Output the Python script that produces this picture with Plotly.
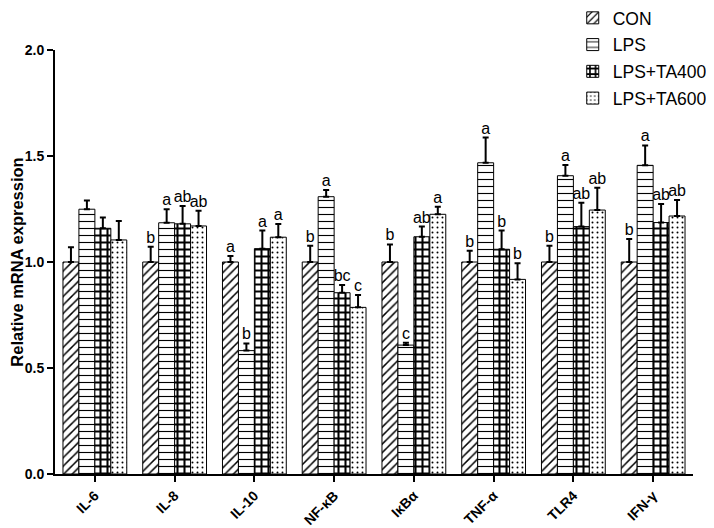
import plotly.graph_objects as go

categories = ["IL-6", "IL-8", "IL-10", "NF-κB", "IκBα", "TNF-α", "TLR4", "IFN-γ"]
groups = ["CON", "LPS", "LPS+TA400", "LPS+TA600"]

con_mean = [1.00, 1.00, 1.00, 1.00, 1.00, 1.00, 1.00, 1.00]
con_err = [0.07, 0.072, 0.028, 0.077, 0.083, 0.053, 0.077, 0.108]
lps_mean = [1.249, 1.185, 0.582, 1.308, 0.608, 1.468, 1.407, 1.456]
lps_err = [0.041, 0.064, 0.034, 0.032, 0.011, 0.119, 0.051, 0.094]
ta400_mean = [1.159, 1.180, 1.063, 0.855, 1.119, 1.060, 1.167, 1.186]
ta400_err = [0.051, 0.084, 0.085, 0.037, 0.048, 0.088, 0.113, 0.088]
ta600_mean = [1.104, 1.170, 1.117, 0.786, 1.225, 0.918, 1.245, 1.217]
ta600_err = [0.089, 0.072, 0.062, 0.058, 0.036, 0.076, 0.105, 0.075]

con_letters = ["", "b", "a", "b", "b", "b", "b", "b"]
lps_letters = ["", "a", "b", "a", "c", "a", "a", "a"]
ta400_letters = ["", "ab", "a", "bc", "ab", "b", "ab", "ab"]
ta600_letters = ["", "ab", "a", "c", "a", "b", "ab", "ab"]

y_ticks = [0.0, 0.5, 1.0, 1.5, 2.0]

means = [con_mean, lps_mean, ta400_mean, ta600_mean]
errs = [con_err, lps_err, ta400_err, ta600_err]
letters = [con_letters, lps_letters, ta400_letters, ta600_letters]
patterns = [
    dict(shape="/", size=6, solidity=0.25),
    dict(shape="-", size=7, solidity=0.16),
    dict(shape="+", size=7, solidity=0.5),
    dict(shape=".", size=5, solidity=0.12),
]

FONT = "Liberation Sans, Arial, sans-serif"
xs = list(range(len(categories)))
bar_w = 0.2

fig = go.Figure()
for j, g in enumerate(groups):
    fig.add_trace(go.Bar(
        x=xs, y=means[j], name=g, width=bar_w, offset=(j - 2) * bar_w,
        legendgroup=g,
        marker=dict(color="white",
                    line=dict(color="black", width=1),
                    pattern=dict(fgcolor="black", bgcolor="white", fillmode="replace", **patterns[j])),
        error_y=dict(type="data", symmetric=False, array=errs[j],
                     arrayminus=[0] * len(errs[j]), color="black", thickness=2, width=3),
    ))

for j, g in enumerate(groups):
    fig.add_trace(go.Scatter(
        x=[i + (j - 1.5) * bar_w for i in xs],
        y=[m + e for m, e in zip(means[j], errs[j])],
        text=letters[j], mode="text", textposition="top center",
        textfont=dict(family=FONT, size=16, color="black"),
        showlegend=False, hoverinfo="skip", cliponaxis=False,
    ))

fig.update_layout(
    width=706, height=520,
    margin=dict(l=47, r=21, t=42, b=54, autoexpand=False),
    paper_bgcolor="white", plot_bgcolor="white",
    barmode="overlay",
    font=dict(family=FONT, color="black"),
    legend=dict(x=0.8115, y=1.118,
                xanchor="left", yanchor="top",
                font=dict(family=FONT, size=17.5, color="black"),
                tracegroupgap=1, bgcolor="rgba(0,0,0,0)"),
    showlegend=True,
)
fig.update_xaxes(
    range=[-0.5, 7.5], tickvals=xs, ticktext=categories, tickangle=-45,
    tickfont=dict(family=FONT, size=14, color="black", weight="bold"),
    showline=True, linecolor="black", linewidth=2,
    ticks="outside", ticklen=6, tickwidth=2, tickcolor="black",
    showgrid=False, zeroline=False,
)
fig.update_yaxes(
    range=[0, 2.0], tickvals=y_ticks, tickformat=".1f",
    tickfont=dict(family=FONT, size=14, color="black", weight="bold"),
    title=dict(text="Relative mRNA expression", standoff=3,
               font=dict(family=FONT, size=16.5, color="black", weight="bold")),
    showline=True, linecolor="black", linewidth=2,
    ticks="outside", ticklen=6, tickwidth=2, tickcolor="black",
    showgrid=False, zeroline=False,
)

fig.write_html("out.html")
